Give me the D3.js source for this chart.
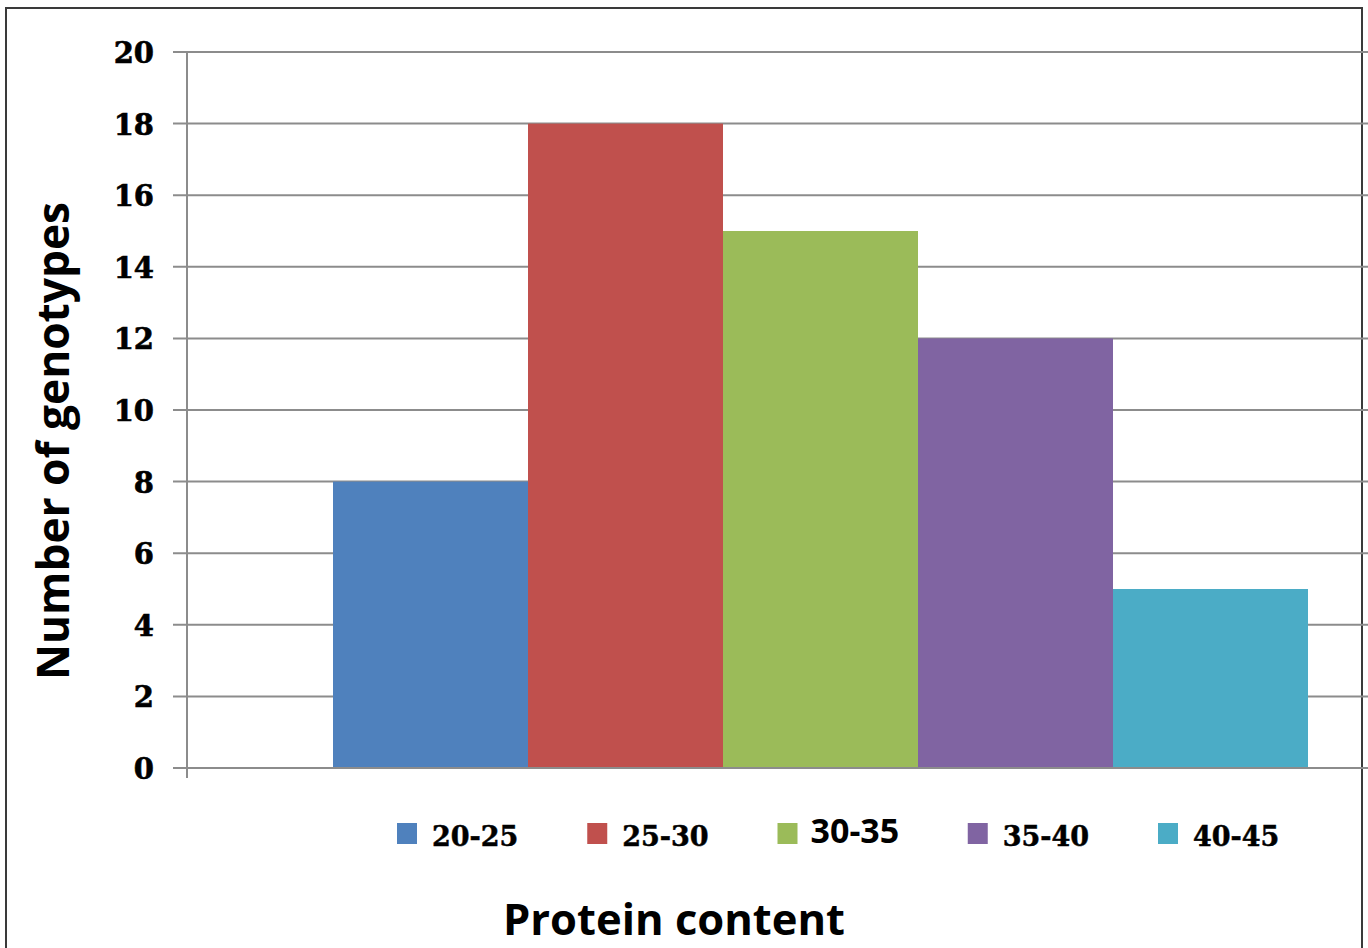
<!DOCTYPE html>
<html>
<head>
<meta charset="utf-8">
<script src="https://cdn.jsdelivr.net/npm/d3@7"></script>
<style>
  html, body { margin: 0; padding: 0; background: #fff; overflow: hidden; }
  svg { display: block; }
</style>
</head>
<body>
<svg id="chart" width="1368" height="948"></svg>
<script>
// Protein content classes and the number of genotypes in each
const classes = ["20-25", "25-30", "30-35", "35-40", "40-45"];
const counts = [8, 18, 15, 12, 5];
const colors = ["#4F81BD", "#C0504D", "#9BBB59", "#8064A2", "#4BACC6"];
const yTicks = [0, 2, 4, 6, 8, 10, 12, 14, 16, 18, 20];

const svg = d3.select("#chart");
const W = 1368, H = 948;

// frame around the chart
svg.append("rect")
  .attr("x", 6).attr("y", 8)
  .attr("width", 1356).attr("height", H)
  .attr("fill", "#fff")
  .attr("stroke", "#3a3a3a").attr("stroke-width", 2);

const plot = { left: 187, top: 52, bottom: 768, right: W };

const y = d3.scaleLinear().domain([0, 20]).range([plot.bottom, plot.top]);
const x = d3.scaleBand().domain(classes).range([333, 1308]).paddingInner(0).paddingOuter(0);

// horizontal gridlines with short ticks left of the axis
const grid = svg.append("g");
grid.selectAll("line")
  .data(yTicks)
  .join("line")
  .attr("x1", 173).attr("x2", plot.right)
  .attr("y1", d => y(d)).attr("y2", d => y(d))
  .attr("stroke", "#8c8c8c").attr("stroke-width", 2);

// bars
svg.append("g").selectAll("rect")
  .data(classes.map((c, i) => ({ c, v: counts[i], col: colors[i] })))
  .join("rect")
  .attr("x", d => x(d.c))
  .attr("y", d => y(d.v))
  .attr("width", x.bandwidth())
  .attr("height", d => y(0) - y(d.v))
  .attr("fill", d => d.col);

// baseline over the bars
svg.append("line")
  .attr("x1", 173).attr("x2", plot.right)
  .attr("y1", y(0)).attr("y2", y(0))
  .attr("stroke", "#8c8c8c").attr("stroke-width", 2);

// vertical axis
const yAxis = d3.axisLeft(y).tickValues(yTicks).tickSize(0).tickPadding(33);
const ga = svg.append("g").attr("transform", `translate(${plot.left},0)`).call(yAxis);
ga.select(".domain").remove();
ga.append("line")
  .attr("x1", 0).attr("x2", 0)
  .attr("y1", plot.top).attr("y2", plot.bottom + 10)
  .attr("stroke", "#8c8c8c").attr("stroke-width", 2);
ga.selectAll(".tick text")
  .attr("font-family", "'DejaVu Serif', serif")
  .attr("font-weight", "bold")
  .attr("font-size", 29)
  .attr("fill", "#000")
  .attr("stroke", "#000").attr("stroke-width", 0.6)
  .attr("dy", "0.36em");

// legend
const legend = svg.append("g");
const lx = d3.scalePoint().domain(classes).range([397, 1158]);
const items = legend.selectAll("g")
  .data(classes.map((c, i) => ({ c, col: colors[i], i })))
  .join("g")
  .attr("transform", d => `translate(${lx(d.c)},823)`);
items.append("rect")
  .attr("width", 20).attr("height", 21)
  .attr("fill", d => d.col);
items.append("text")
  .attr("x", d => d.i === 2 ? 33 : 35)
  .attr("y", d => d.i === 2 ? 20 : 23)
  .attr("font-family", d => d.i === 2 ? "'Open Sans', sans-serif" : "'DejaVu Serif', serif")
  .attr("font-weight", "bold")
  .attr("font-size", d => d.i === 2 ? 34 : 27)
  .attr("fill", "#000")
  .attr("stroke", d => d.i === 2 ? "none" : "#000")
  .attr("stroke-width", 0.5)
  .text(d => d.c);

// axis titles
svg.append("text")
  .attr("x", 674).attr("y", 935)
  .attr("text-anchor", "middle")
  .attr("font-family", "'Open Sans', sans-serif")
  .attr("font-weight", "bold")
  .attr("font-size", 43)
  .attr("textLength", 342)
  .attr("lengthAdjust", "spacingAndGlyphs")
  .attr("fill", "#000")
  .text("Protein content");

svg.append("text")
  .attr("transform", "translate(69,441) rotate(-90)")
  .attr("text-anchor", "middle")
  .attr("font-family", "'Open Sans', sans-serif")
  .attr("font-weight", "bold")
  .attr("font-size", 44)
  .attr("textLength", 478)
  .attr("lengthAdjust", "spacingAndGlyphs")
  .attr("fill", "#000")
  .text("Number of genotypes");
</script>
</body>
</html>
